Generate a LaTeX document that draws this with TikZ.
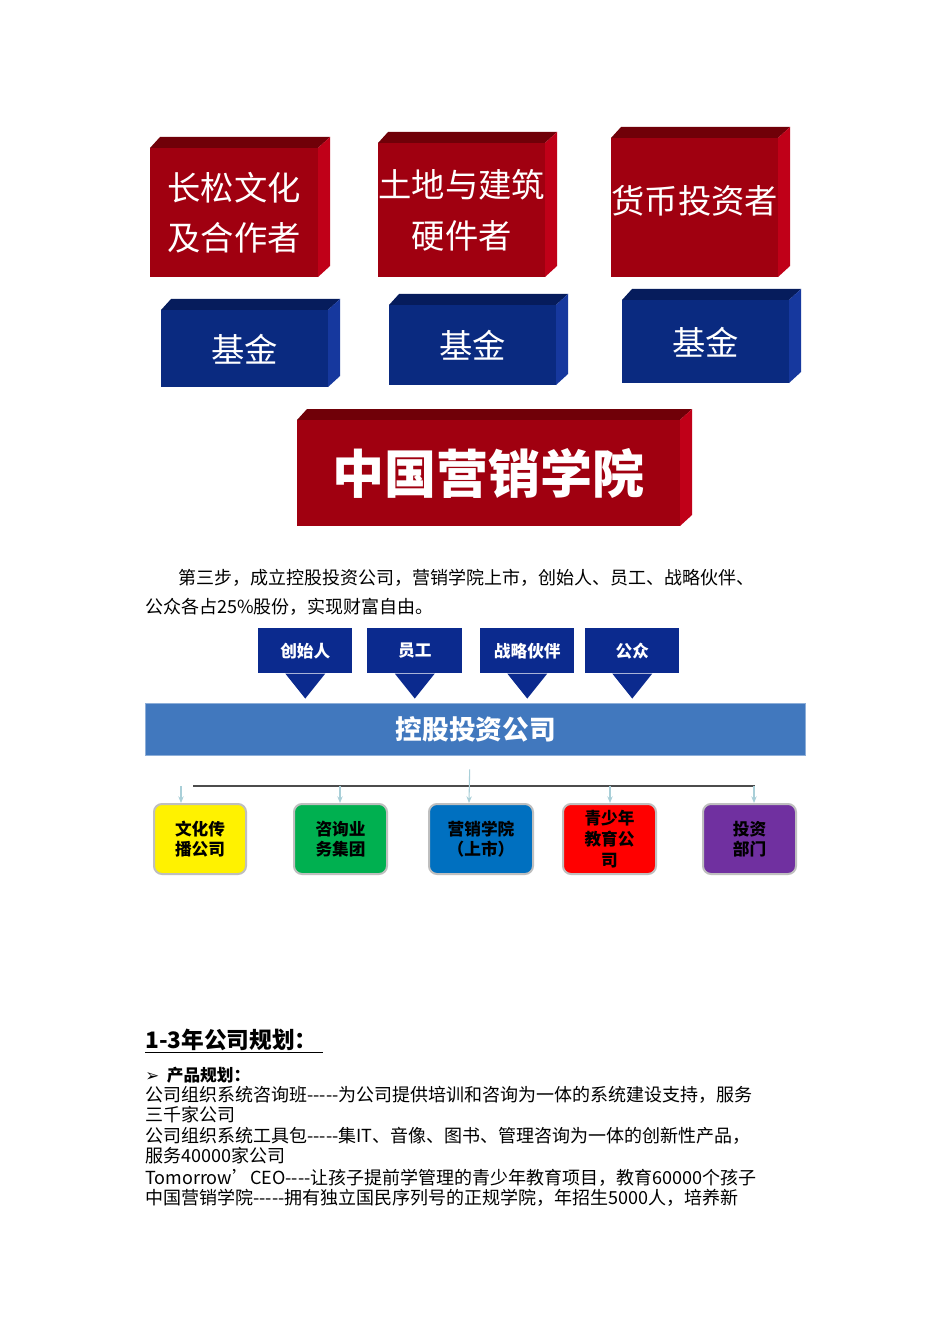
\documentclass[tikz,border=0pt]{standalone}
\usepackage{fontspec}
\setmainfont{Noto Sans CJK SC}
\newfontfamily\cjk{Noto Sans CJK SC}
\newfontfamily\djv{DejaVu Sans}
\usetikzlibrary{arrows.meta,calc}
\definecolor{rfront}{HTML}{A00010}
\definecolor{rtop}{HTML}{700008}
\definecolor{rside}{HTML}{C00018}
\definecolor{bfront}{HTML}{0A2A80}
\definecolor{btop}{HTML}{061C5C}
\definecolor{bside}{HTML}{16389E}
\definecolor{navy}{HTML}{0B2A8E}
\definecolor{barblue}{HTML}{4178BE}
\definecolor{lineblue}{HTML}{A9CFD8}
\tikzset{
  cubetext/.style={text=white,font=\cjk\fontsize{25}{38}\selectfont,align=center},
  arrbox/.style={fill=navy,text=white,font=\cjk\bfseries\fontsize{12.5}{14}\selectfont,inner sep=0pt,anchor=north west},
  subbox/.style={rounded corners=6pt,draw=black!25,line width=1.5pt,font=\cjk\bfseries\fontsize{12.5}{15}\selectfont,align=center,inner sep=0pt,anchor=north west},
  body/.style={anchor=west,inner sep=0pt,font=\cjk\fontsize{13.5}{15}\selectfont},
  thin/.style={draw=lineblue,line width=0.8pt,-{Stealth[length=5pt,width=4pt]}}
}
% cube: #1 name, #2 x1, #3 y1, #4 x2, #5 y2, #6 prefix colour, #7 text
\newcommand\cubebox[7]{%
  \fill[#6top] (#2,#3) -- (#2+10,#3-11) -- (#4+12,#3-11) -- (#4,#3) -- cycle;
  \fill[#6side] (#4,#3) -- (#4+12,#3-11) -- (#4+12,#5-11) -- (#4,#5) -- cycle;
  \node[fill=#6front,minimum width=(#4-#2)*0.75pt,minimum height=(#5-#3)*0.75pt,anchor=north west,inner sep=0pt,cubetext] (#1) at (#2,#3) {#7};
}
\begin{document}
\begin{tikzpicture}[x=0.75pt,y=-0.75pt]
\useasboundingbox (0,0) rectangle (950,1344);
\fill[white] (0,0) rectangle (950,1344);
\cubebox{r1}{150}{148}{318}{277}{r}{长松文化\\及合作者}
\cubebox{r2}{378}{143}{545}{277}{r}{土地与建筑\\硬件者}
\cubebox{r3}{611}{138}{778}{277}{r}{\raisebox{12pt}{货币投资者}}
\cubebox{b1}{161}{310}{328}{387}{b}{基金}
\cubebox{b2}{389}{305}{556}{385}{b}{基金}
\cubebox{b3}{622}{300}{789}{383}{b}{基金}
\cubebox{big}{297}{420}{680}{526}{r}{\bfseries\fontsize{39}{42}\selectfont 中国营销学院}
\node[body,anchor=west] (p1) at (178,578) {第三步，成立控股投资公司，营销学院上市，创始人、员工、战略伙伴、};
\node[body,anchor=west] (p2) at (145,607) {公众各占25\%股份，实现财富自由。};
\foreach \n/\x/\w/\t in {a1/258/94/创始人,a2/367/95/员工,a3/480/94/战略伙伴,a4/585/94/公众}{
  \node[arrbox,minimum width=\w*0.75pt,minimum height=45*0.75pt] (\n) at (\x,628) {\t};
  \fill[navy] ($(\n.south)+(-20,0)$) -- ($(\n.south)+(20,0)$) -- ($(\n.south)+(0,25)$) -- cycle;
}
\node[fill=barblue,draw=barblue!60,line width=1pt,minimum width=660*0.75pt,minimum height=52*0.75pt,anchor=north west,inner sep=0pt,text=white,font=\cjk\bfseries\fontsize{20}{22}\selectfont] (bar) at (145,703) {控股投资公司};
\coordinate (hl) at (193,786);
\coordinate (hr) at (755,786);
\draw[black!70,line width=0.8pt] (hl) -- (hr);
\node[subbox,fill=yellow,minimum width=92*0.75pt,minimum height=70*0.75pt] (s1) at (153,803) {文化传\\播公司};
\node[subbox,fill={rgb,255:red,0;green,176;blue,80},minimum width=93*0.75pt,minimum height=70*0.75pt] (s2) at (293,803) {咨询业\\务集团};
\node[subbox,fill={rgb,255:red,0;green,112;blue,192},minimum width=104*0.75pt,minimum height=70*0.75pt] (s3) at (428,803) {营销学院\\（上市）};
\node[subbox,fill=red,minimum width=93*0.75pt,minimum height=70*0.75pt,font=\cjk\bfseries\fontsize{12.5}{16}\selectfont] (s4) at (562,803) {青少年\\教育公\\司};
\node[subbox,fill={rgb,255:red,112;green,48;blue,160},minimum width=93*0.75pt,minimum height=70*0.75pt] (s5) at (702,803) {投资\\部门};
\draw[thin] ($(bar.south)+(-6,13)$) -- (s3.north -| 469,803);
\foreach \s/\x in {s1/181,s2/340,s4/610,s5/754}{
  \draw[thin] (\x,786) -- (\s.north -| \x,803);
}
\node[anchor=west,inner sep=0pt,font=\cjk\bfseries\fontsize{17}{20}\selectfont] (h1) at (145,1041) {\underline{1-3年公司规划：\ }};
\node[anchor=west,inner sep=0pt,font=\cjk\bfseries\fontsize{12.5}{14}\selectfont] (h2) at (145,1075) {{\djv ➢}\ \ 产品规划：};
\node[body] (l1) at (145,1095) {公司组织系统咨询班-----为公司提供培训和咨询为一体的系统建设支持，服务};
\node[body] (l2) at (145,1115) {三千家公司};
\node[body] (l3) at (145,1136) {公司组织系统工具包-----集IT、音像、图书、管理咨询为一体的创新性产品，};
\node[body] (l4) at (145,1156) {服务40000家公司};
\node[body] (l5) at (145,1178) {Tomorrow’CEO----让孩子提前学管理的青少年教育项目，教育60000个孩子};
\node[body] (l6) at (145,1198) {中国营销学院-----拥有独立国民序列号的正规学院，年招生5000人，培养新};
\end{tikzpicture}
\end{document}
